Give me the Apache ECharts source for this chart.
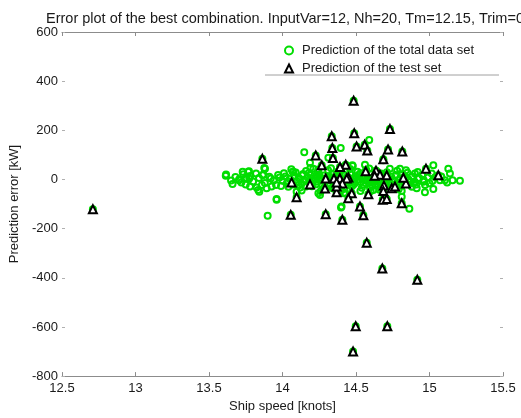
<!DOCTYPE html>
<html>
<head>
<meta charset="utf-8">
<script src="https://cdn.jsdelivr.net/npm/echarts@6/dist/echarts.min.js"></script>
<style>html,body{margin:0;padding:0;background:#fff;}#chart{width:521px;height:418px;}</style>
</head>
<body>
<div id="chart"></div>
<script>
const titleText = 'Error plot of the best combination. InputVar=12, Nh=20, Tm=12.15, Trim=0';
const xName = 'Ship speed [knots]';
const yName = 'Prediction error [kW]';
const totalName = 'Prediction of the total data set';
const testName = 'Prediction of the test set';

// Test set points [speed, error]
const testSet = [
  [12.71,-121],[14.484,320],[14.488,188],[14.335,176],[14.339,128],[14.343,87],[13.863,84],
  [14.226,98],[14.504,134],[14.559,141],[14.577,118],[14.731,205],[14.718,122],[14.686,82],
  [14.43,60],[14.391,51],[14.267,58],[14.566,33],[14.636,36],[14.663,19],[14.709,17],[14.627,15],
  [14.294,4],[14.35,4],[14.39,5],[14.448,8],[14.437,4],[14.062,-12],[14.187,-20],[14.407,-16],
  [14.289,-37],[14.368,-52],[14.368,-29],[14.471,-56],[14.448,-76],[14.584,-60],[14.69,-25],
  [14.686,-47],[14.743,-36],[14.682,-83],[14.096,-72],[14.527,-110],[14.056,-144],[14.294,-141],
  [14.709,-79],[14.765,-29],[14.811,-97],[14.84,-16],[14.822,7],[14.976,44],[15.06,17],
  [14.55,-146],[14.407,-164],[14.368,-12],[14.815,114],
  [14.573,-257],[14.679,-362],[14.917,-408],[14.498,-597],[14.713,-597],[14.48,-700]
];

// Remaining points of the total data set [speed, error]
const totalSet = [
  [14.59,161],[14.396,128],[14.148,111],[14.187,68],[14.312,88],[13.881,44],[14.074,31],
  [14.478,55],[14.561,60],[13.614,15],[13.65,-4],[13.706,1],[13.733,21],[13.767,31],[13.774,4],
  [13.779,-29],[13.824,-33],[13.842,-50],[13.892,-36],[13.926,-29],[13.96,-79],[13.99,-27],
  [13.865,17],[13.745,4],[14.244,-56],[14.244,41],[14.137,17],[14.198,4],[14.341,-36],
  [14.418,-56],[14.402,-110],[14.6,-47],[14.754,-31],[13.616,20],[13.704,-3],[13.729,31],
  [13.772,33],[13.756,4],[13.835,-43],[13.876,47],[13.87,20],[13.96,-83],[13.899,-148],
  [13.92,4],[13.956,-23],[14.069,31],[14.119,1],[14.16,-29],[14.21,44],[14.233,-9],
  [14.255,-63],[14.096,-50],[14.475,58],[14.686,78],[14.799,44],[14.901,24],[14.913,-36],
  [14.969,-52],[15.026,58],[15.026,-39],[15.015,24],[15.128,44],[15.139,24],[15.105,-3],
  [15.157,-3],[15.207,-5],[15.071,-3],[14.811,-47],[14.811,-70],[14.863,-119],[14.398,-114],
  [14.595,-33],[14.618,-43],[14.425,-54],[14.799,-16],[14.856,1],[14.89,-16],[14.924,4],[14.958,-9],
  [13.98,8],[14.00,-5],[14.02,12],[14.03,-14],[14.05,3],[14.07,-20],[14.08,15],[14.10,-8],
  [14.11,6],[14.13,-17],[14.14,22],[14.15,-3],[14.17,9],[14.18,-12],[14.19,18],[14.21,-6],
  [14.22,4],[14.23,-19],[14.24,13],[14.25,-2],[14.26,7],[14.27,-24],[14.28,16],[14.29,-9],
  [14.30,2],[14.31,-15],[14.32,11],[14.33,-4],[14.34,20],[14.35,-11],[14.36,5],[14.37,-18],
  [14.38,14],[14.39,-7],[14.40,1],[14.41,-22],[14.42,17],[14.43,-3],[14.44,9],[14.45,-13],
  [14.46,24],[14.47,-6],[14.48,3],[14.49,-16],[14.50,12],[14.51,-1],[14.52,19],[14.53,-9],
  [14.54,6],[14.55,-20],[14.56,15],[14.57,-4],[14.58,8],[14.59,-14],[14.60,21],[14.61,-2],
  [14.62,10],[14.63,-17],[14.64,4],[14.65,-8],[14.66,13],[14.67,-21],[14.68,2],[14.69,-10],
  [14.70,16],[14.71,-5],[14.72,7],[14.73,-15],[14.74,11],[14.75,-1],[14.77,18],[14.78,-12],
  [14.80,5],[14.82,-7],[14.84,9],[14.86,-3],[14.88,12],[14.90,-11],[14.93,6],[14.96,-2],
  [14.99,8],[15.02,-6],
  [14.01,25],[14.04,-30],[14.09,28],[14.12,-33],[14.16,34],[14.20,-28],[14.24,30],[14.28,-36],
  [14.31,38],[14.35,-31],[14.38,33],[14.42,-38],[14.44,36],[14.47,-29],[14.51,31],[14.54,-34],
  [14.57,39],[14.61,-27],[14.64,32],[14.67,-37],[14.71,29],[14.74,-32],[14.78,35],[14.81,-26],
  [14.85,27],[14.88,-30],[14.92,30],[14.97,-22],[15.04,10],
  [13.68,10],[13.72,-12],[13.78,14],[13.80,-8],[13.84,6],[13.88,-14],[13.91,11],[13.94,-4],
  [13.66,-18],[13.75,-20],[13.86,-22],[13.82,24],
  [14.06,42],[14.13,-45],[14.19,47],[14.26,-48],[14.33,46],[14.40,-44],[14.46,43],[14.53,-47],
  [14.59,45],[14.66,-42],[14.73,44],[14.79,-40],[14.84,38],[14.91,-20],[14.95,18],[15.00,-15],
  [14.27,-5],[14.34,8],[14.41,-10],[14.48,-22],[14.55,9],[14.62,-8],[14.69,5],[14.76,-7],
  [13.97,18],[14.04,-8],[14.11,-22],[14.18,26],[14.25,20],[14.32,-27],[14.39,23],[14.46,-8],
  [14.53,25],[14.60,-6],[14.67,24],[14.74,-20],[14.81,17],[14.87,-10],[15.08,12],[15.12,-12]
];

const xTicks = {min: 12.5, max: 15.5, step: 0.5};
const yTicks = {min: -800, max: 600, step: 200};

const chart = echarts.init(document.getElementById('chart'), null, {renderer: 'canvas'});
const font = 'Liberation Sans, Arial, sans-serif';
const axisGray = '#8c8c8c';
chart.setOption({
  animation: false,
  backgroundColor: '#ffffff',
  title: {
    text: titleText, left: 41, top: 6,
    textStyle: {fontSize: 14.5, fontWeight: 'normal', color: '#1a1a1a', fontFamily: font}
  },
  legend: {
    orient: 'vertical', left: 279, top: 39, itemGap: 5, itemWidth: 8, itemHeight: 8,
    textStyle: {fontSize: 13, color: '#1a1a1a', fontFamily: font, padding: [0, 0, 0, 4]},
    data: [
      {name: totalName, icon: 'circle', itemStyle: {color: '#fff', borderColor: '#00dd00', borderWidth: 2}},
      {name: testName, icon: 'triangle', itemStyle: {color: '#fff', borderColor: '#000', borderWidth: 2}}
    ]
  },
  graphic: [{
    type: 'line', shape: {x1: 265, y1: 75, x2: 499, y2: 75},
    style: {stroke: '#a0a0a0', lineWidth: 1}, z: 10
  }],
  grid: {left: 62, right: 18, top: 32, bottom: 38},
  xAxis: [{
    type: 'value', min: xTicks.min, max: xTicks.max, interval: xTicks.step,
    name: xName, nameLocation: 'middle', nameGap: 21,
    nameTextStyle: {fontSize: 13, color: '#1a1a1a', fontFamily: font},
    axisLine: {show: true, onZero: false, lineStyle: {color: axisGray, width: 1}},
    axisTick: {show: true, inside: true, length: 4, lineStyle: {color: axisGray}},
    axisLabel: {fontSize: 13, color: '#1a1a1a', fontFamily: font, margin: 6},
    splitLine: {show: false}
  }, {
    type: 'value', position: 'top', min: xTicks.min, max: xTicks.max, interval: xTicks.step,
    axisLine: {show: true, onZero: false, lineStyle: {color: axisGray, width: 1}},
    axisTick: {show: true, inside: true, length: 4, lineStyle: {color: axisGray}},
    axisLabel: {show: false}, splitLine: {show: false}
  }],
  yAxis: [{
    type: 'value', min: yTicks.min, max: yTicks.max, interval: yTicks.step,
    name: yName, nameLocation: 'middle', nameGap: 38,
    nameTextStyle: {fontSize: 13, color: '#1a1a1a', fontFamily: font},
    axisLine: {show: false, onZero: false},
    axisTick: {show: true, inside: true, length: 3, lineStyle: {color: '#b0b0b0'}},
    axisLabel: {fontSize: 13, color: '#1a1a1a', fontFamily: font, margin: 4},
    splitLine: {show: false}
  }, {
    type: 'value', position: 'right', min: yTicks.min, max: yTicks.max, interval: yTicks.step,
    axisLine: {show: false},
    axisTick: {show: true, inside: true, length: 3, lineStyle: {color: '#b0b0b0'}},
    axisLabel: {show: false}, splitLine: {show: false}
  }],
  series: [{
    name: totalName, type: 'scatter', symbol: 'circle', symbolSize: 6,
    itemStyle: {color: 'rgba(0,0,0,0)', borderColor: '#00dd00', borderWidth: 2, opacity: 1},
    data: totalSet.concat(testSet), z: 2
  }, {
    name: testName, type: 'scatter', symbol: 'triangle', symbolSize: 8,
    itemStyle: {color: '#ffffff', borderColor: '#000000', borderWidth: 2, opacity: 1},
    data: testSet, z: 3
  }]
});
</script>
</body>
</html>
